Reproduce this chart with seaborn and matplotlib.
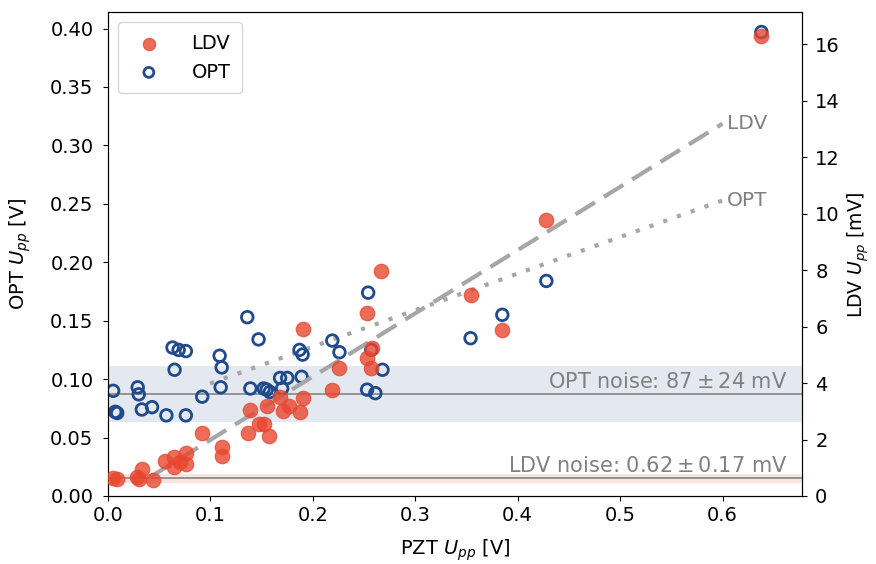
import numpy as np
import matplotlib
matplotlib.use("Agg")
import matplotlib.pyplot as plt
import seaborn as sns

# OPT measurements: PZT drive [V] vs OPT peak-to-peak [V]
opt_pzt = [0.005, 0.007, 0.009, 0.029, 0.030, 0.033, 0.043, 0.057, 0.063, 0.069,
           0.076, 0.065, 0.076, 0.092, 0.109, 0.111, 0.110, 0.136, 0.147, 0.139,
           0.152, 0.155, 0.158, 0.168, 0.175, 0.170, 0.189, 0.187, 0.190, 0.219,
           0.226, 0.254, 0.257, 0.268, 0.253, 0.261, 0.354, 0.385, 0.428, 0.638]
opt_v = [0.090, 0.072, 0.071, 0.093, 0.087, 0.074, 0.076, 0.069, 0.127, 0.125,
         0.124, 0.108, 0.069, 0.085, 0.120, 0.110, 0.093, 0.153, 0.134, 0.092,
         0.092, 0.091, 0.089, 0.101, 0.101, 0.092, 0.102, 0.125, 0.121, 0.133,
         0.123, 0.174, 0.125, 0.108, 0.091, 0.088, 0.135, 0.155, 0.184, 0.397]

# LDV measurements: PZT drive [V] vs LDV peak-to-peak [mV]
ldv_pzt = [0.005, 0.009, 0.028, 0.033, 0.030, 0.044, 0.056, 0.064, 0.064, 0.070,
           0.076, 0.076, 0.092, 0.111, 0.111, 0.137, 0.139, 0.147, 0.152, 0.157,
           0.155, 0.168, 0.171, 0.177, 0.187, 0.190, 0.190, 0.219, 0.226, 0.253,
           0.253, 0.258, 0.257, 0.267, 0.354, 0.385, 0.428, 0.638]
ldv_mv = [0.64, 0.60, 0.67, 0.96, 0.60, 0.57, 1.24, 1.38, 1.03, 1.21,
          1.53, 1.14, 2.23, 1.74, 1.42, 2.23, 3.05, 2.55, 2.55, 2.13,
          3.19, 3.51, 3.02, 3.19, 2.98, 3.48, 5.92, 3.76, 4.54, 6.49,
          4.90, 5.25, 4.54, 7.98, 7.13, 5.89, 9.79, 16.28]

# noise levels (mean, std)
opt_noise = [0.087, 0.024]   # V
ldv_noise = [0.62, 0.17]     # mV

# linear trends: slope, intercept, x range
opt_fit = [0.313, 0.0651]
opt_fit_x = [0.0996, 0.6]
ldv_fit = [22.4, -0.25]
ldv_fit_x = [0.041, 0.6]

red = "#e8472f"
blue = "#1f4a8c"
grey = "#8c8c8c"
txt = "#808080"

fig, ax = plt.subplots(figsize=(8.76, 5.64), dpi=100)
fig.subplots_adjust(left=0.1233, right=0.9155, bottom=0.1206, top=0.978)
ax2 = ax.twinx()

# noise bands
ax.axhspan(opt_noise[0] - opt_noise[1], opt_noise[0] + opt_noise[1],
           color="#e4e9f1", lw=0, zorder=0)
ax.axhline(opt_noise[0], color=grey, lw=1.3, zorder=1)
ax2.axhspan(ldv_noise[0] - ldv_noise[1], ldv_noise[0] + ldv_noise[1],
            color="#fbe3df", lw=0, zorder=0)
ax2.axhline(ldv_noise[0], color=grey, lw=1.3, zorder=1)

sns.scatterplot(x=opt_pzt, y=opt_v, ax=ax, marker="o", s=70,
                facecolor="none", edgecolor=blue, linewidth=2, label="OPT",
                zorder=3, legend=False)
sns.scatterplot(x=ldv_pzt, y=ldv_mv, ax=ax2, marker="o", s=110,
                color=red, alpha=0.8, edgecolor=red, linewidth=0.8,
                label="LDV", zorder=3, legend=False)

ox = np.array(opt_fit_x)
sns.lineplot(x=ox, y=opt_fit[0] * ox + opt_fit[1], ax=ax, color="#a6a6a6",
             lw=3, linestyle=(0, (1, 2.5)), zorder=2)
lx = np.array(ldv_fit_x)
sns.lineplot(x=lx, y=ldv_fit[0] * lx + ldv_fit[1], ax=ax2, color="#a6a6a6",
             lw=3, linestyle=(0, (5.5, 2.5)), zorder=2)

ax2.text(0.604, ldv_fit[0] * 0.6 + ldv_fit[1], "LDV", color=txt,
         fontsize=14.5, ha="left", va="center")
ax.text(0.604, opt_fit[0] * 0.6 + opt_fit[1], "OPT", color=txt,
        fontsize=14.5, ha="left", va="center")

ax.text(0.663, opt_noise[0] + 0.002, "OPT noise: $87 \\pm 24$ mV",
        color=txt, fontsize=15, ha="right", va="bottom")
ax2.text(0.663, ldv_noise[0] + 0.08, "LDV noise: $0.62 \\pm 0.17$ mV",
         color=txt, fontsize=15, ha="right", va="bottom")

ax.set_xlim(0, 0.6776)
ax.set_ylim(0, 0.4138)
ax2.set_ylim(0, 17.13)
ax.set_yticks(np.arange(0, 0.401, 0.05))
ax2.set_yticks(np.arange(0, 17, 2))
ax.yaxis.set_major_formatter(matplotlib.ticker.FormatStrFormatter("%.2f"))

ax.set_xlabel("PZT $U_{pp}$ [V]", fontsize=14, labelpad=9)
ax.set_ylabel("OPT $U_{pp}$ [V]", fontsize=14, labelpad=12)
ax2.set_ylabel("LDV $U_{pp}$ [mV]", fontsize=13.5, labelpad=4)
ax.tick_params(labelsize=14)
ax2.tick_params(labelsize=14)
ax.tick_params(axis="y", pad=7)
ax2.tick_params(axis="y", pad=6)

h1, l1 = ax2.get_legend_handles_labels()
h2, l2 = ax.get_legend_handles_labels()
if ax.get_legend() is not None:
    ax.get_legend().remove()
ax2.legend(h1 + h2, l1 + l2, loc="upper left", fontsize=14,
           borderpad=0.6, handletextpad=1.2, markerscale=0.85)

plt.savefig("out.png", dpi=100)
